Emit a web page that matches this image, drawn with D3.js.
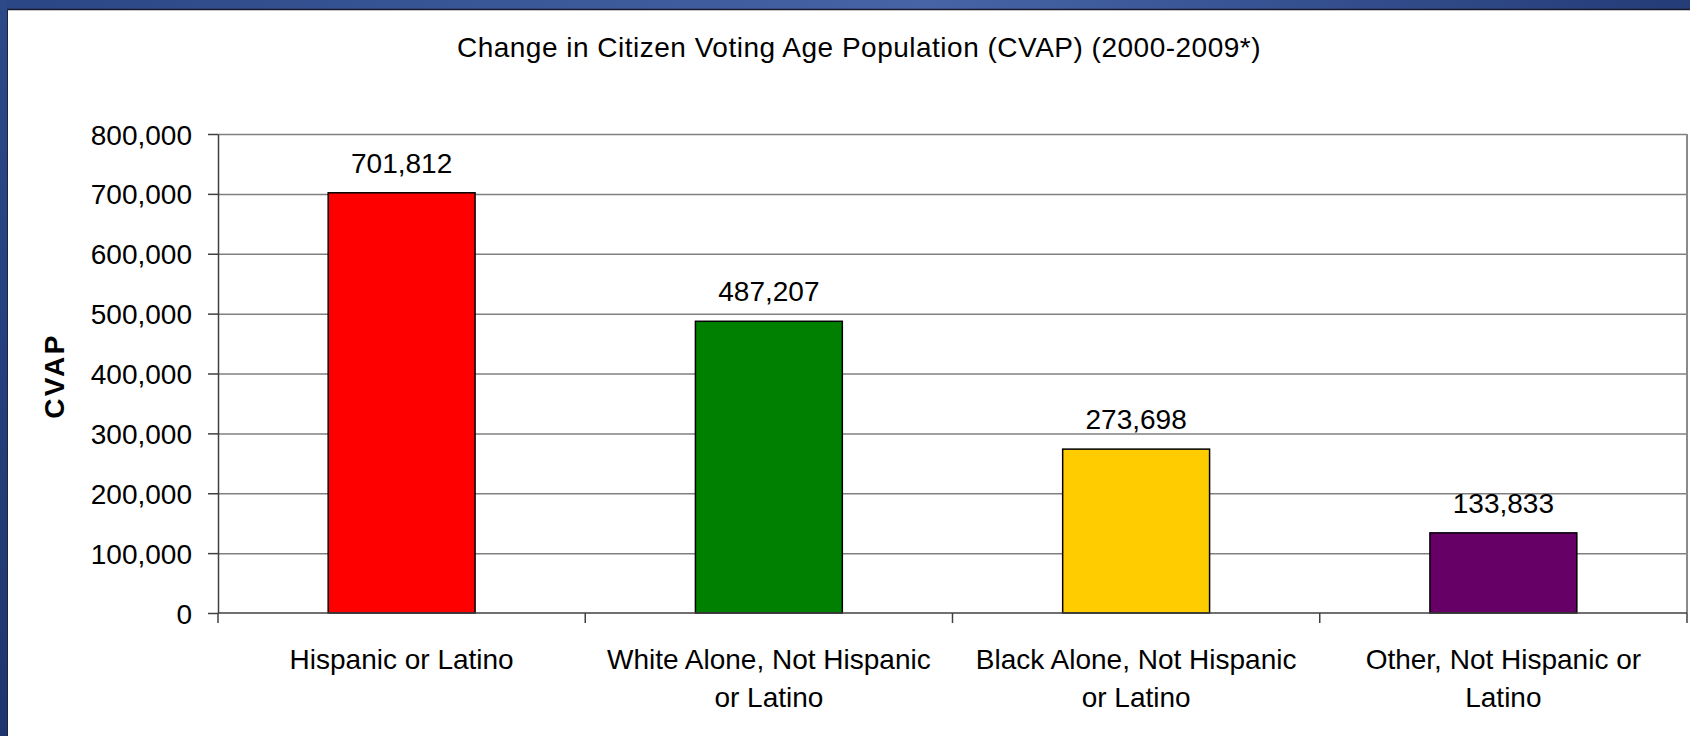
<!DOCTYPE html>
<html>
<head>
<meta charset="utf-8">
<script src="https://cdn.jsdelivr.net/npm/d3@7"></script>
<style>
  html, body { margin: 0; padding: 0; background: #fff; }
  svg { display: block; font-family: "Liberation Sans", Arial, sans-serif; }
</style>
</head>
<body>
<svg id="chart" width="1690" height="736"></svg>
<script>
// Change in citizen voting age population, 2000-2009
const categoryLines = [
  ["Hispanic or Latino"],
  ["White Alone, Not Hispanic", "or Latino"],
  ["Black Alone, Not Hispanic", "or Latino"],
  ["Other, Not Hispanic or", "Latino"]
];
const categories = categoryLines.map(l => l.join(" "));
const values = [701812, 487207, 273698, 133833];
const barColors = ["#FF0000", "#008000", "#FFCC00", "#660066"];
const yTicks = [0, 100000, 200000, 300000, 400000, 500000, 600000, 700000, 800000];
const titleText = "Change in Citizen Voting Age Population (CVAP) (2000-2009*)";
const yAxisTitle = "CVAP";

const W = 1690, H = 736;
const plot = { left: 218, right: 1687, top: 134, bottom: 613 };
const svg = d3.select("#chart");

// slide frame: blue bands along the top and left edges
const defs = svg.append("defs");
const gTop = defs.append("linearGradient").attr("id", "topBand").attr("x1", "0").attr("x2", "1");
gTop.append("stop").attr("offset", "0").attr("stop-color", "#2a4684");
gTop.append("stop").attr("offset", "0.55").attr("stop-color", "#4664a6");
gTop.append("stop").attr("offset", "1").attr("stop-color", "#243c78");
const gLeft = defs.append("linearGradient").attr("id", "leftBand").attr("x1", "0").attr("x2", "0").attr("y1", "0").attr("y2", "1");
gLeft.append("stop").attr("offset", "0").attr("stop-color", "#2c4988");
gLeft.append("stop").attr("offset", "1").attr("stop-color", "#1f3570");

svg.append("rect").attr("x", 0).attr("y", 0).attr("width", W).attr("height", H).attr("fill", "#fff");
svg.append("rect").attr("x", 0).attr("y", 0).attr("width", W).attr("height", 9).attr("fill", "url(#topBand)");
svg.append("rect").attr("x", 0).attr("y", 0).attr("width", 7).attr("height", H).attr("fill", "url(#leftBand)");
svg.append("line").attr("x1", 7).attr("x2", W).attr("y1", 9.5).attr("y2", 9.5).attr("stroke", "#1a1a2a").attr("stroke-width", 1.5);
svg.append("line").attr("x1", 7.5).attr("x2", 7.5).attr("y1", 9).attr("y2", H).attr("stroke", "#1a2540").attr("stroke-width", 1);

// scales
const x = d3.scaleBand().domain(categories).range([plot.left, plot.right]).paddingInner(0.6).paddingOuter(0.3);
const y = d3.scaleLinear().domain([0, 800000]).range([plot.bottom, plot.top]);
const fmt = d3.format(",");

// gridlines
svg.append("g").attr("class", "grid")
  .attr("transform", `translate(${plot.left},0)`)
  .call(d3.axisLeft(y).tickValues(yTicks.filter(d => d > 0)).tickSize(-(plot.right - plot.left)).tickFormat(""))
  .call(g => g.select(".domain").remove())
  .call(g => g.selectAll("line").attr("stroke", "#808080").attr("stroke-width", 1.5));

// plot-area right border
svg.append("line").attr("x1", plot.right).attr("x2", plot.right).attr("y1", plot.top).attr("y2", plot.bottom)
  .attr("stroke", "#8a8a8a").attr("stroke-width", 2);

// bars
svg.append("g").selectAll("rect").data(values).join("rect")
  .attr("x", (d, i) => x(categories[i]))
  .attr("y", d => y(d))
  .attr("width", x.bandwidth())
  .attr("height", d => y(0) - y(d))
  .attr("fill", (d, i) => barColors[i])
  .attr("stroke", "#000").attr("stroke-width", 1.5);

// value labels
svg.append("g").selectAll("text").data(values).join("text")
  .attr("x", (d, i) => x(categories[i]) + x.bandwidth() / 2)
  .attr("y", d => y(d) - 20)
  .attr("text-anchor", "middle")
  .attr("font-size", 28).attr("fill", "#000")
  .text(d => fmt(d));

// y axis
const yAxis = svg.append("g").attr("transform", `translate(${plot.left},0)`)
  .call(d3.axisLeft(y).tickValues(yTicks).tickSize(10).tickPadding(16).tickFormat(fmt).tickSizeOuter(0));
yAxis.select(".domain").attr("stroke", "#404040").attr("stroke-width", 1.5);
yAxis.selectAll(".tick line").attr("stroke", "#404040").attr("stroke-width", 1.5);
yAxis.selectAll(".tick text").attr("font-size", 28).attr("fill", "#000")
  .attr("font-family", "Liberation Sans, Arial, sans-serif").attr("dy", "0.36em");

// x axis: line plus ticks at category boundaries
const xAxis = svg.append("g");
xAxis.append("line").attr("x1", plot.left).attr("x2", plot.right).attr("y1", plot.bottom).attr("y2", plot.bottom)
  .attr("stroke", "#404040").attr("stroke-width", 1.5);
const boundaries = categories.map(c => x(c) - x.step() * x.paddingInner() / 2 - (c === categories[0] ? x.step() * (x.paddingOuter() - x.paddingInner() / 2) : 0));
boundaries.push(plot.right);
xAxis.selectAll(".xt").data(boundaries).join("line").attr("class", "xt")
  .attr("x1", d => d).attr("x2", d => d).attr("y1", plot.bottom).attr("y2", plot.bottom + 10)
  .attr("stroke", "#404040").attr("stroke-width", 1.5);

// category labels
const catG = xAxis.selectAll(".cat").data(categoryLines).join("text").attr("class", "cat")
  .attr("text-anchor", "middle").attr("font-size", 28).attr("fill", "#000");
catG.selectAll("tspan").data((d, i) => d.map(line => ({ line, i }))).join("tspan")
  .attr("x", d => x(categories[d.i]) + x.bandwidth() / 2)
  .attr("y", (d, j) => 669 + j * 38)
  .text(d => d.line);

// title
svg.append("text").attr("x", 859).attr("y", 57).attr("text-anchor", "middle")
  .attr("font-size", 28).attr("letter-spacing", 0.5).attr("fill", "#000").text(titleText);

// y axis title
svg.append("text").attr("transform", "translate(64,376) rotate(-90)")
  .attr("text-anchor", "middle").attr("font-size", 28).attr("font-weight", "bold")
  .attr("letter-spacing", 2.5).attr("fill", "#000").text(yAxisTitle);
</script>
</body>
</html>
